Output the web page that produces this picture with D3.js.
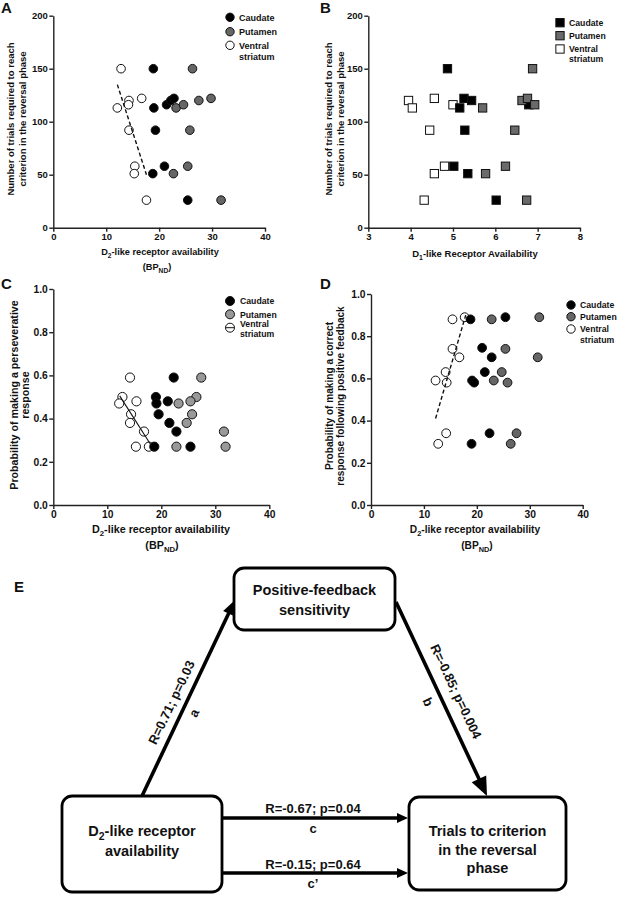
<!DOCTYPE html>
<html>
<head>
<meta charset="utf-8">
<script src="https://cdn.jsdelivr.net/npm/d3@7"></script>
<style>
  body { margin: 0; background: #fff; }
  text { font-family: "Liberation Sans", Arial, sans-serif; font-weight: bold; fill: #111; }
</style>
</head>
<body>
<svg id="chart" width="620" height="900"></svg>
<script>
// ---- data ----
// A: trials to criterion vs D2 BPnd
const aCaudX = [18.9, 19.0, 19.3, 21.4, 22.2, 22.8, 21.0, 18.8, 25.4];
const aCaudY = [150, 113, 92, 116, 120, 122, 58, 51, 26];
const aPutX = [26.3, 27.5, 29.8, 23.2, 24.6, 25.8, 25.4, 22.7, 31.7];
const aPutY = [150, 120, 122, 113, 116, 92, 58, 51, 26];
const aVsX = [12.8, 14.3, 14.2, 12.1, 16.7, 14.3, 15.4, 15.3, 17.6];
const aVsY = [150, 120, 116, 113, 122, 92, 58, 51, 26];
const aFitX = [12.1, 17.6];
const aFitY = [135, 50];

// B: trials to criterion vs D1 availability
const bCaudX = [4.87, 5.26, 5.44, 5.16, 5.28, 5.02, 5.35, 6.02, 6.79];
const bCaudY = [150, 122, 120, 113, 92, 58, 51, 26, 116];
const bPutX = [6.88, 6.63, 6.76, 6.93, 5.70, 6.46, 6.24, 5.77, 6.74];
const bPutY = [150, 120, 122, 116, 113, 92, 58, 51, 26];
const bVsX = [3.95, 4.04, 4.56, 5.0, 4.45, 4.80, 4.56, 4.32];
const bVsY = [120, 113, 122, 116, 92, 58, 51, 26];

// C: perseverative response probability vs D2 BPnd
const cCaudX = [22.3, 19.0, 19.1, 21.2, 19.5, 21.5, 22.8, 18.7, 25.4];
const cCaudY = [0.59, 0.50, 0.47, 0.48, 0.42, 0.38, 0.34, 0.27, 0.27];
const cPutX = [27.4, 26.5, 25.4, 23.2, 25.7, 24.7, 31.6, 22.8, 31.9];
const cPutY = [0.59, 0.50, 0.48, 0.47, 0.42, 0.38, 0.34, 0.27, 0.27];
const cVsX = [14.2, 12.8, 12.2, 15.4, 14.4, 14.2, 16.8, 15.3, 17.7];
const cVsY = [0.59, 0.50, 0.47, 0.48, 0.42, 0.38, 0.34, 0.27, 0.27];
const cFitX = [12.3, 18.2];
const cFitY = [0.505, 0.273];

// D: correct after positive feedback vs D2 BPnd
const dCaudX = [18.8, 25.4, 21.0, 22.8, 21.5, 19.1, 19.5, 22.4, 19.0];
const dCaudY = [0.88, 0.89, 0.745, 0.70, 0.63, 0.59, 0.58, 0.34, 0.29];
const dPutX = [22.8, 31.8, 25.4, 31.5, 24.7, 23.2, 25.8, 27.5, 26.4];
const dPutY = [0.88, 0.89, 0.74, 0.70, 0.63, 0.59, 0.58, 0.34, 0.29];
const dVsX = [15.4, 17.7, 15.4, 16.7, 14.1, 12.2, 14.3, 14.2, 12.7];
const dVsY = [0.88, 0.89, 0.74, 0.70, 0.63, 0.59, 0.58, 0.34, 0.29];
const dFitX = [12.2, 17.9];
const dFitY = [0.41, 0.90];

const trialTicks = [0, 50, 100, 150, 200];
const bpTicks = [0, 10, 20, 30, 40];
const d1Ticks = [3, 4, 5, 6, 7, 8];
const probTicks = [0, 0.2, 0.4, 0.6, 0.8, 1.0];
const regions = ["Caudate", "Putamen", "Ventral", "striatum"];

const svg = d3.select("#chart");

// text with subscripts: parts = [[str, isSub], ...]
function rich(t, parts, size) {
  let down = false;
  parts.forEach(([s, sub]) => {
    const ts = t.append("tspan").text(s);
    if (sub) { ts.attr("font-size", size * 0.72).attr("dy", down ? 0 : size * 0.28); down = true; }
    else { ts.attr("dy", down ? -size * 0.28 : 0); down = false; }
  });
  return t;
}

const D2 = [["D", 0], ["2", 1], ["-like receptor availability", 0]];
const BPND = [["(BP", 0], ["ND", 1], [")", 0]];

function scatter(p) {
  const x = d3.scaleLinear().domain(p.xDomain).range(p.xRange);
  const y = d3.scaleLinear().domain(p.yDomain).range(p.yRange);
  const g = svg.append("g");

  const xa = g.append("g").attr("transform", `translate(0,${p.yRange[0]})`)
    .call(d3.axisBottom(x).tickValues(p.xTicks).tickSize(4).tickSizeOuter(0).tickPadding(1.5).tickFormat(d3.format("d")));
  const ya = g.append("g").attr("transform", `translate(${p.xRange[0]},0)`)
    .call(d3.axisLeft(y).tickValues(p.yTicks).tickSize(4).tickSizeOuter(0).tickPadding(1.5).tickFormat(p.fmt));
  [xa, ya].forEach(a => {
    a.attr("font-family", null).attr("font-size", p.tickSize);
    a.selectAll("path, line").attr("stroke", "#222").attr("stroke-width", 1.4);
    a.selectAll("text").attr("fill", "#111");
  });

  // points: ventral first, then caudate, putamen on top
  const drawOrder = [p.series[2], p.series[0], p.series[1]];
  drawOrder.forEach(s => {
    const pts = s.xs.map((v, i) => [v, s.ys[i]]);
    if (p.shape === "square") {
      g.append("g").selectAll("rect").data(pts).join("rect")
        .attr("x", d => x(d[0]) - p.size / 2).attr("y", d => y(d[1]) - p.size / 2)
        .attr("width", p.size).attr("height", p.size)
        .attr("fill", s.fill).attr("stroke", "#111").attr("stroke-width", 1);
    } else {
      g.append("g").selectAll("circle").data(pts).join("circle")
        .attr("cx", d => x(d[0])).attr("cy", d => y(d[1])).attr("r", p.size)
        .attr("fill", s.fill).attr("stroke", "#111").attr("stroke-width", 1);
    }
  });

  if (p.fit) {
    g.append("path")
      .attr("d", d3.line()(p.fit.xs.map((v, i) => [x(v), y(p.fit.ys[i])])))
      .attr("fill", "none").attr("stroke", "#111")
      .attr("stroke-width", p.fit.width).attr("stroke-dasharray", p.fit.dash);
  }

  // legend (caudate, putamen, ventral striatum)
  const L = p.legend;
  p.series.forEach((s, i) => {
    const my = L.ys[i];
    if (p.shape === "square") {
      g.append("rect").attr("x", L.x - p.size / 2).attr("y", my - p.size / 2)
        .attr("width", p.size).attr("height", p.size)
        .attr("fill", s.fill).attr("stroke", "#111");
    } else {
      g.append("circle").attr("cx", L.x).attr("cy", my).attr("r", L.r)
        .attr("fill", s.fill).attr("stroke", "#111");
      if (i === 2 && L.crossLine) {
        g.append("line").attr("x1", L.x - L.r).attr("x2", L.x + L.r)
          .attr("y1", my).attr("y2", my).attr("stroke", "#111");
      }
    }
  });
  L.textYs.forEach((ty, i) => {
    g.append("text").attr("x", L.tx).attr("y", ty).attr("font-size", L.font).text(regions[i]);
  });

  // axis titles
  p.yTitle.forEach(l => {
    g.append("text").attr("transform", `translate(${l.x},${p.yTitleCy}) rotate(-90)`)
      .attr("text-anchor", "middle").attr("font-size", p.titleSize).text(l.text);
  });
  p.xTitle.forEach(l => {
    rich(g.append("text").attr("x", l.x).attr("y", l.y).attr("text-anchor", "middle")
      .attr("font-size", l.size), l.parts, l.size);
  });

  svg.append("text").attr("x", p.letter[1]).attr("y", p.letter[2])
    .attr("font-size", 15).text(p.letter[0]);
}

scatter({
  letter: ["A", 1, 13],
  xDomain: [0, 40], yDomain: [0, 200], xRange: [53.3, 265], yRange: [227.7, 15.7],
  xTicks: bpTicks, yTicks: trialTicks, fmt: d3.format("d"), tickSize: 9.5,
  shape: "circle", size: 4.3,
  series: [
    { xs: aCaudX, ys: aCaudY, fill: "#000" },
    { xs: aPutX, ys: aPutY, fill: "#666" },
    { xs: aVsX, ys: aVsY, fill: "#fff" }
  ],
  fit: { xs: aFitX, ys: aFitY, dash: "4,2.5", width: 1.4 },
  legend: { x: 230, r: 4.2, ys: [17.3, 31.7, 45.3], tx: 239, textYs: [20.5, 35, 48.5, 60], font: 9 },
  yTitleCy: 119, titleSize: 9.5,
  yTitle: [{ x: 14, text: "Number of trials required to reach" }, { x: 25.5, text: "criterion in the reversal phase" }],
  xTitle: [{ x: 160, y: 255, size: 9.2, parts: D2 }, { x: 157, y: 270, size: 9.2, parts: BPND }]
});

scatter({
  letter: ["B", 320, 13],
  xDomain: [3, 8], yDomain: [0, 200], xRange: [368.3, 580], yRange: [227.7, 15.7],
  xTicks: d1Ticks, yTicks: trialTicks, fmt: d3.format("d"), tickSize: 9.5,
  shape: "square", size: 8.3,
  series: [
    { xs: bCaudX, ys: bCaudY, fill: "#000" },
    { xs: bPutX, ys: bPutY, fill: "#6a6a6a" },
    { xs: bVsX, ys: bVsY, fill: "#fff" }
  ],
  legend: { x: 560, r: 4, ys: [22.7, 35.7, 49], tx: 569, textYs: [26, 39, 52.3, 62], font: 8.7 },
  yTitleCy: 119, titleSize: 9.5,
  yTitle: [{ x: 332, text: "Number of trials required to reach" }, { x: 343.5, text: "criterion in the reversal phase" }],
  xTitle: [{ x: 475, y: 257, size: 9.5, parts: [["D", 0], ["1", 1], ["-like Receptor Availability", 0]] }]
});

scatter({
  letter: ["C", 1, 289],
  xDomain: [0, 40], yDomain: [0, 1], xRange: [53.3, 269.3], yRange: [505, 289],
  xTicks: bpTicks, yTicks: probTicks, fmt: d3.format(".1f"), tickSize: 10.3,
  shape: "circle", size: 4.6,
  series: [
    { xs: cCaudX, ys: cCaudY, fill: "#000" },
    { xs: cPutX, ys: cPutY, fill: "#999" },
    { xs: cVsX, ys: cVsY, fill: "#fff" }
  ],
  fit: { xs: cFitX, ys: cFitY, dash: null, width: 1.1 },
  legend: { x: 230, r: 4.5, ys: [301, 314.3, 327.7], tx: 240, textYs: [304, 317.5, 326.5, 337], font: 8.7, crossLine: true },
  yTitleCy: 395, titleSize: 10.7,
  yTitle: [{ x: 17.5, text: "Probability of making a perseverative" }, { x: 28.5, text: "response" }],
  xTitle: [{ x: 161, y: 533, size: 10.8, parts: D2 }, { x: 162, y: 549, size: 10.8, parts: BPND }]
});

scatter({
  letter: ["D", 320, 289],
  xDomain: [0, 40], yDomain: [0, 1], xRange: [371, 582.7], yRange: [505, 294],
  xTicks: bpTicks, yTicks: probTicks, fmt: d3.format(".1f"), tickSize: 10.3,
  shape: "circle", size: 4.4,
  series: [
    { xs: dCaudX, ys: dCaudY, fill: "#000" },
    { xs: dPutX, ys: dPutY, fill: "#666" },
    { xs: dVsX, ys: dVsY, fill: "#fff" }
  ],
  fit: { xs: dFitX, ys: dFitY, dash: "4,2.5", width: 1.4 },
  legend: { x: 571, r: 4.2, ys: [305, 316.7, 329], tx: 580, textYs: [308, 320, 332, 342.5], font: 8.7 },
  yTitleCy: 396, titleSize: 10.1,
  yTitle: [{ x: 332.5, text: "Probability of making a correct" }, { x: 343.5, text: "response following positive feedback" }],
  xTitle: [{ x: 475, y: 533, size: 10.2, parts: D2 }, { x: 477, y: 549, size: 10.2, parts: BPND }]
});

// ---- panel E: mediation diagram ----
const boxes = [
  { x: 234, y: 568, w: 161, h: 62, lines: [[["Positive-feedback", 0]], [["sensitivity", 0]]], ly: [595, 614.5] },
  { x: 62, y: 796, w: 160, h: 96, lines: [[["D", 0], ["2", 1], ["-like receptor", 0]], [["availability", 0]]], ly: [836, 855.5] },
  { x: 409, y: 797, w: 157, h: 93, lines: [[["Trials to criterion", 0]], [["in the reversal", 0]], [["phase", 0]]], ly: [836, 854.5, 873] }
];
const arrows = [
  { x1: 142, y1: 796, x2: 235, y2: 600, head: [15, 12] },
  { x1: 396, y1: 602, x2: 487, y2: 796, head: [19, 16] },
  { x1: 223, y1: 818, x2: 408, y2: 818, head: [11, 10] },
  { x1: 223, y1: 873, x2: 408, y2: 873, head: [11, 10] }
];
const edgeLabels = [
  { x: 171.5, y: 702.5, rot: -64.5, text: "R=0.71; p=0.03" },
  { x: 194, y: 713, rot: -64.5, text: "a" },
  { x: 456, y: 691.5, rot: 64.8, text: "R=-0.85; p=0.004" },
  { x: 428, y: 702, rot: 64.8, text: "b" },
  { x: 313, y: 808, rot: 0, text: "R=-0.67; p=0.04" },
  { x: 313, y: 828, rot: 0, text: "c" },
  { x: 313, y: 864, rot: 0, text: "R=-0.15; p=0.64" },
  { x: 313, y: 883, rot: 0, text: "c\u2019" }
];

const eg = svg.append("g");
eg.append("text").attr("x", 14).attr("y", 592).attr("font-size", 15).text("E");

arrows.forEach(a => {
  const ang = Math.atan2(a.y2 - a.y1, a.x2 - a.x1);
  const [hl, hw] = a.head;
  const bx = a.x2 - hl * Math.cos(ang), by = a.y2 - hl * Math.sin(ang);
  eg.append("line").attr("x1", a.x1).attr("y1", a.y1)
    .attr("x2", bx + 2 * Math.cos(ang)).attr("y2", by + 2 * Math.sin(ang))
    .attr("stroke", "#000").attr("stroke-width", 3.6);
  const nx = -Math.sin(ang) * hw / 2, ny = Math.cos(ang) * hw / 2;
  eg.append("path")
    .attr("d", `M${a.x2},${a.y2}L${bx + nx},${by + ny}L${bx - nx},${by - ny}Z`)
    .attr("fill", "#000");
});

boxes.forEach(b => {
  eg.append("rect").attr("x", b.x).attr("y", b.y).attr("width", b.w).attr("height", b.h)
    .attr("rx", 10).attr("fill", "#fff").attr("stroke", "#000").attr("stroke-width", 2.8);
  b.lines.forEach((parts, i) => {
    rich(eg.append("text").attr("x", b.x + b.w / 2).attr("y", b.ly[i])
      .attr("text-anchor", "middle").attr("font-size", 14.5), parts, 14.5);
  });
});

edgeLabels.forEach(l => {
  eg.append("text").attr("transform", `translate(${l.x},${l.y}) rotate(${l.rot})`)
    .attr("text-anchor", "middle").attr("dominant-baseline", "central")
    .attr("font-size", 13).text(l.text);
});
</script>
</body>
</html>
